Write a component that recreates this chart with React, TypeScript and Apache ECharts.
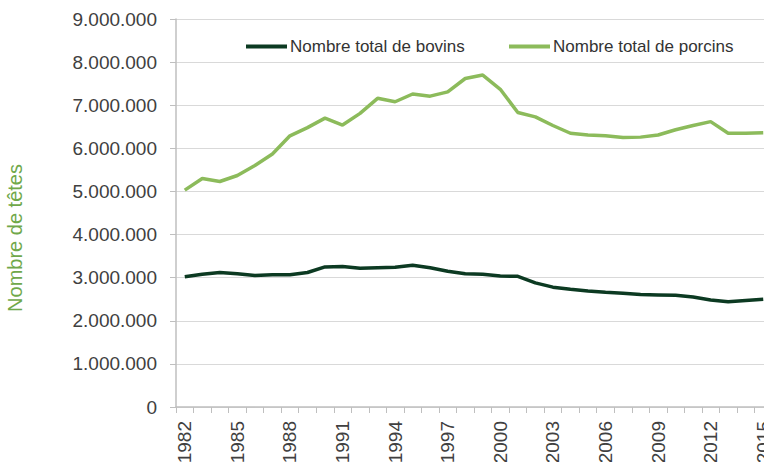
import React, { useEffect, useRef } from "react";
import * as echarts from "echarts";

const years: string[] = [];
for (let y = 1982; y <= 2015; y++) years.push(String(y));

const bovins = [
  3.02, 3.08, 3.12, 3.09, 3.05, 3.07, 3.07, 3.12, 3.25, 3.26,
  3.22, 3.23, 3.24, 3.29, 3.23, 3.15, 3.09, 3.08, 3.04, 3.03,
  2.88, 2.78, 2.73, 2.69, 2.66, 2.64, 2.61, 2.60, 2.59, 2.55,
  2.48, 2.44, 2.47, 2.50,
].map((v) => Math.round(v * 1e6));

const porcins = [
  5.03, 5.30, 5.23, 5.37, 5.60, 5.87, 6.29, 6.48, 6.70, 6.54,
  6.81, 7.16, 7.08, 7.26, 7.21, 7.31, 7.62, 7.70, 7.37, 6.83,
  6.73, 6.53, 6.35, 6.31, 6.29, 6.25, 6.26, 6.31, 6.43, 6.53,
  6.62, 6.35, 6.35, 6.36,
].map((v) => Math.round(v * 1e6));

const seriesNames = ["Nombre total de bovins", "Nombre total de porcins"];
const colors = ["#0c3a22", "#8cbb5b"];
const yAxisName = "Nombre de têtes";

const fmt = (v: number) =>
  String(Math.round(v)).replace(/\B(?=(\d{3})+(?!\d))/g, ".");

const FONT = "Liberation Sans, Arial, sans-serif";

export default function App() {
  const ref = useRef<HTMLDivElement>(null);
  useEffect(() => {
    if (!ref.current) return;
    const chart = echarts.init(ref.current, undefined, { renderer: "svg" });
    const legendCommon = {
      top: 38,
      padding: 0,
      icon: "rect",
      itemWidth: 41,
      itemHeight: 4,
      itemGap: 0,
      textStyle: { fontSize: 17, color: "#333", fontFamily: FONT, padding: [0, 0, 0, -2] },
    };
    chart.setOption({
      animation: false,
      textStyle: { fontFamily: FONT },
      legend: [
        { ...legendCommon, data: [seriesNames[0]], left: 246 },
        { ...legendCommon, data: [seriesNames[1]], left: 509 },
      ],
      graphic: [
        {
          type: "text",
          x: 15,
          y: 238,
          rotation: Math.PI / 2,
          style: {
            text: yAxisName,
            fill: "#70a84a",
            fontSize: 20,
            fontFamily: FONT,
            align: "center",
            verticalAlign: "middle",
          },
        },
      ],
      grid: {
        left: 176,
        right: 0,
        top: 19,
        bottom: 55,
        containLabel: false,
        outerBoundsMode: "none",
      },
      xAxis: {
        type: "category",
        data: years,
        boundaryGap: true,
        axisLine: { lineStyle: { color: "#bfbfbf", width: 1.5 } },
        axisTick: { show: true, length: 6, interval: 0, lineStyle: { color: "#bfbfbf" } },
        axisLabel: {
          interval: 2,
          rotate: 90,
          margin: 14,
          fontSize: 19,
          color: "#404040",
          fontFamily: FONT,
        },
        splitLine: { show: false },
      },
      yAxis: {
        type: "value",
        min: 0,
        max: 9000000,
        interval: 1000000,
        axisLine: { show: true, lineStyle: { color: "#bfbfbf", width: 1.5 } },
        axisTick: { show: true, length: 6, lineStyle: { color: "#bfbfbf" } },
        axisLabel: {
          formatter: fmt,
          margin: 19,
          fontSize: 19,
          color: "#404040",
          fontFamily: FONT,
        },
        splitLine: { lineStyle: { color: "#d9d9d9", width: 1 } },
      },
      series: [
        {
          name: seriesNames[0],
          type: "line",
          data: bovins,
          symbol: "none",
          lineStyle: { width: 3.5, color: colors[0] },
          itemStyle: { color: colors[0] },
        },
        {
          name: seriesNames[1],
          type: "line",
          data: porcins,
          symbol: "none",
          lineStyle: { width: 3.5, color: colors[1] },
          itemStyle: { color: colors[1] },
        },
      ],
    });
    return () => chart.dispose();
  }, []);
  return (
    <div style={{ position: "absolute", left: 0, top: 0, width: 764, height: 462, overflow: "hidden" }}>
      <div ref={ref} style={{ width: 772, height: 462 }} />
    </div>
  );
}
